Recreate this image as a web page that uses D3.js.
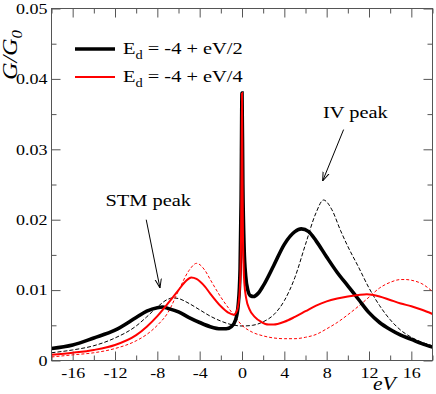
<!DOCTYPE html>
<html>
<head>
<meta charset="utf-8">
<script src="https://cdn.jsdelivr.net/npm/d3@7"></script>
<style>
  body { margin: 0; background: #fff; }
  svg { display: block; }
  text { font-family: "Liberation Serif", "DejaVu Serif", serif; fill: #000; }
</style>
</head>
<body>
<div id="chart"></div>
<script>
// conductance G/G0 vs bias eV
const solidHalf = [ // E_d = -4 + eV/2
  [-18,0.0017],[-16,0.0022],[-14,0.0032],[-12,0.0043],[-10,0.0061],[-9,0.0070],[-8,0.0075],[-7.5,0.0076],
  [-7,0.0074],[-6,0.0069],[-5,0.0061],[-4,0.0054],[-3,0.0048],[-2,0.0045],[-1.5,0.0045],[-1,0.0048],
  [-0.6,0.0058],[-0.35,0.0080],[-0.18,0.0130],[-0.08,0.0230],[0,0.0380],[0.08,0.0250],[0.2,0.0160],
  [0.35,0.0120],[0.55,0.0100],[0.8,0.0092],[1.1,0.0091],[1.5,0.0095],[2,0.0106],[3,0.0135],[4,0.0165],
  [5,0.0183],[5.6,0.0187],[6.3,0.0183],[7,0.0170],[8,0.0147],[9,0.0125],[10,0.0106],[11,0.0087],
  [12,0.0068],[13,0.0054],[14,0.0044],[15,0.0036],[16,0.0030],[17,0.0024],[18,0.0019]
];
const solidQuarter = [ // E_d = -4 + eV/4
  [-18,0.0008],[-16,0.0011],[-14,0.0015],[-12,0.0022],[-10,0.0036],[-9,0.0048],[-8,0.0063],[-7,0.0081],
  [-6,0.0100],[-5.3,0.0113],[-4.8,0.0118],[-4.3,0.0116],[-3.5,0.0105],[-3,0.0095],[-2,0.0077],[-1.3,0.0068],
  [-0.8,0.0065],[-0.45,0.0072],[-0.22,0.0098],[-0.1,0.0160],[-0.04,0.0270],[0,0.0380],[0.04,0.0270],
  [0.1,0.0165],[0.22,0.0110],[0.4,0.0088],[0.7,0.0073],[1.2,0.0062],[1.8,0.0055],[2.5,0.0051],[3,0.0051],
  [4,0.0055],[5,0.0062],[6,0.0070],[7,0.0078],[8,0.0084],[9,0.0088],[10,0.0091],[11,0.0093],[11.8,0.0094],
  [13,0.0091],[14,0.0086],[15,0.0081],[16,0.0077],[17,0.0072],[18,0.0066]
];
const dashedHalf = [
  [-18,0.0011],[-16,0.0015],[-14,0.0021],[-12,0.0032],[-10,0.0049],[-9,0.0062],[-8,0.0076],[-7,0.0087],
  [-6.5,0.0089],[-6,0.0088],[-5,0.0081],[-4,0.0072],[-3,0.0063],[-2,0.0056],[-1,0.0051],[0,0.0049],
  [1,0.0050],[2,0.0055],[3,0.0065],[4,0.0085],[5,0.0118],[6,0.0165],[7,0.0210],[7.7,0.0228],[8.5,0.0214],
  [9.3,0.0185],[10,0.0162],[11,0.0133],[12,0.0103],[13,0.0078],[14,0.0058],[15,0.0043],[16,0.0033],
  [17,0.0026],[18,0.0021]
];
const dashedQuarter = [
  [-18,0.0005],[-16,0.0008],[-14,0.0011],[-12,0.0017],[-10,0.0028],[-9,0.0037],[-8,0.0050],[-7,0.0068],
  [-6,0.0099],[-5,0.0128],[-4.3,0.0138],[-3.5,0.0128],[-3,0.0115],[-2,0.0090],[-1,0.0069],[0,0.0050],
  [1,0.0040],[2,0.0035],[3,0.0032],[4,0.0031],[5,0.0031],[6,0.0033],[7,0.0037],[8,0.0045],[9,0.0054],
  [10,0.0065],[11,0.0077],[12,0.0090],[13,0.0103],[14,0.0111],[15,0.0115],[15.5,0.0115],[16,0.0114],
  [17,0.0109],[18,0.0098]
];

const xMajor = [-16,-12,-8,-4,0,4,8,12,16];
const xMinor = [-18,-14,-10,-6,-2,2,6,10,14,18];
const yMajor = [0,0.01,0.02,0.03,0.04,0.05];
const yMinor = [0.005,0.015,0.025,0.035,0.045];
const legendLabels = [" = -4 + eV/2", " = -4 + eV/4"];

// annotations: [text, textX, textY, arrowFrom, arrowTo] in data units
const notes = [
  ["STM peak", -12.9, 0.0219, [-9.05,0.0200], [-7.75,0.0103]],
  ["IV peak", 7.65, 0.0344, [9.6,0.0328], [7.62,0.0255]]
];

const W = 436, H = 394;
const mLeft = 51.5, mRight = 432.5, mTop = 8.5, mBottom = 360.5;
const SX = 1.2; // text in the figure is horizontally stretched

const x = d3.scaleLinear().domain([-18, 18]).range([mLeft, mRight]);
const y = d3.scaleLinear().domain([0, 0.05]).range([mBottom, mTop]);

const svg = d3.select('#chart').append('svg')
  .attr('width', W).attr('height', H);

svg.append('defs').append('clipPath').attr('id', 'plot')
  .append('rect').attr('x', mLeft).attr('y', mTop)
  .attr('width', mRight - mLeft).attr('height', mBottom - mTop);

const axisCol = '#555';

function tickAxis(axis, tx, ty, vals, size) {
  const g = svg.append('g').attr('transform', 'translate(' + tx + ',' + ty + ')')
    .call(axis.tickValues(vals).tickSize(-size).tickFormat(''));
  g.select('.domain').remove();
  g.selectAll('line').attr('stroke', axisCol);
  return g;
}

tickAxis(d3.axisBottom(x), 0, mBottom, xMinor, 5);
tickAxis(d3.axisTop(x), 0, mTop, xMinor, 5);
tickAxis(d3.axisTop(x), 0, mTop, xMajor, 9);
tickAxis(d3.axisLeft(y), mLeft, 0, yMinor, 5);
tickAxis(d3.axisRight(y), mRight, 0, yMinor, 5);
tickAxis(d3.axisRight(y), mRight, 0, yMajor, 9);

const gx = svg.append('g').attr('transform', 'translate(0,' + mBottom + ')')
  .call(d3.axisBottom(x).tickValues(xMajor).tickSize(-9).tickPadding(0)
    .tickFormat(d => String(d)));
gx.select('.domain').remove();
gx.selectAll('line').attr('stroke', axisCol);
gx.selectAll('text').attr('y', 18).attr('dy', null)
  .attr('font-size', 15).attr('transform', 'scale(' + SX + ',1)');

const gy = svg.append('g').attr('transform', 'translate(' + mLeft + ',0)')
  .call(d3.axisLeft(y).tickValues(yMajor).tickSize(-9)
    .tickFormat(d => d === 0 ? '0' : d3.format('.2f')(d)));
gy.select('.domain').remove();
gy.selectAll('line').attr('stroke', axisCol);
gy.selectAll('text').attr('x', -4 / SX)
  .attr('font-size', 15).attr('transform', 'scale(' + SX + ',1)');

svg.selectAll('.tick text').attr('font-family', '"Liberation Serif", serif').attr('fill', '#000');

// curves
const line = d3.line().x(d => x(d[0])).y(d => y(d[1])).curve(d3.curveMonotoneX);
const plot = svg.append('g').attr('clip-path', 'url(#plot)');

plot.append('path').datum(dashedHalf).attr('d', line)
  .attr('fill', 'none').attr('stroke', '#000').attr('stroke-width', 1).attr('stroke-dasharray', '4,2');
plot.append('path').datum(dashedQuarter).attr('d', line)
  .attr('fill', 'none').attr('stroke', '#ff0000').attr('stroke-width', 1).attr('stroke-dasharray', '3,2');
plot.append('path').datum(solidHalf).attr('d', line)
  .attr('fill', 'none').attr('stroke', '#000').attr('stroke-width', 3.6);
plot.append('path').datum(solidQuarter).attr('d', line)
  .attr('fill', 'none').attr('stroke', '#ff0000').attr('stroke-width', 2);

// frame
svg.append('rect').attr('x', mLeft).attr('y', mTop)
  .attr('width', mRight - mLeft).attr('height', mBottom - mTop)
  .attr('fill', 'none').attr('stroke', axisCol).attr('stroke-width', 1);

// legend
const legend = svg.append('g');
[['#000', 3.6], ['#ff0000', 2]].forEach((s, i) => {
  const ly = 49 + i * 28;
  legend.append('line').attr('x1', 75).attr('x2', 115).attr('y1', ly).attr('y2', ly)
    .attr('stroke', s[0]).attr('stroke-width', s[1]);
  const t = legend.append('text').attr('font-size', 17)
    .attr('transform', 'translate(123,' + (ly + 5) + ') scale(' + SX + ',1)');
  t.append('tspan').text('E');
  t.append('tspan').attr('font-size', 12).attr('dy', 5).text('d');
  t.append('tspan').attr('dy', -5).text(legendLabels[i]);
});

// annotations with open arrowheads
svg.append('defs').append('marker').attr('id', 'arr')
  .attr('viewBox', '0 0 10 10').attr('refX', 10).attr('refY', 5)
  .attr('markerWidth', 9).attr('markerHeight', 9).attr('markerUnits', 'userSpaceOnUse')
  .attr('orient', 'auto')
  .append('path').attr('d', 'M0,1.5 L10,5 L0,8.5').attr('fill', 'none')
  .attr('stroke', '#000').attr('stroke-width', 1.1);

notes.forEach(n => {
  svg.append('text').attr('font-size', 17)
    .attr('transform', 'translate(' + x(n[1]) + ',' + y(n[2]) + ') scale(' + SX + ',1)')
    .text(n[0]);
  svg.append('line')
    .attr('x1', x(n[3][0])).attr('y1', y(n[3][1]))
    .attr('x2', x(n[4][0])).attr('y2', y(n[4][1]))
    .attr('stroke', '#000').attr('stroke-width', 1).attr('marker-end', 'url(#arr)');
});

// axis titles
const yt = svg.append('text').attr('font-size', 20).attr('font-style', 'italic')
  .attr('text-anchor', 'middle')
  .attr('transform', 'translate(17,55) rotate(-90) scale(' + SX + ',1)');
yt.append('tspan').text('G/G');
yt.append('tspan').attr('font-size', 14).attr('dy', 5).text('0');

svg.append('text').attr('font-size', 18).attr('font-style', 'italic')
  .attr('transform', 'translate(373,390) scale(' + SX + ',1)')
  .text('eV');
</script>
</body>
</html>
